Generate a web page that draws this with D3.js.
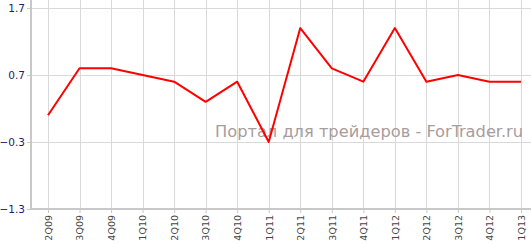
<!DOCTYPE html>
<html>
<head>
<meta charset="utf-8">
<script src="https://cdn.jsdelivr.net/npm/d3@7"></script>
<style>
  body { margin: 0; background: #fff; }
  .y-axis text { font-family: Verdana, "DejaVu Sans", sans-serif; font-size: 10.5px; fill: #1c1c6c; }
  .x-axis text { font-family: Verdana, "DejaVu Sans", sans-serif; font-size: 9.5px; fill: #444; }
</style>
</head>
<body>
<svg id="chart"></svg>
<script>
// quarters and values
const quarters = ['2Q09','3Q09','4Q09','1Q10','2Q10','3Q10','4Q10','1Q11','2Q11','3Q11','4Q11','1Q12','2Q12','3Q12','4Q12','1Q13'];
const values = [0.1, 0.8, 0.8, 0.7, 0.6, 0.3, 0.6, -0.3, 1.4, 0.8, 0.6, 1.4, 0.6, 0.7, 0.6, 0.6];
const yTicks = [-1.3, -0.3, 0.7, 1.7];
const watermark = 'Портал для трейдеров - ForTrader.ru';

const width = 531, height = 244;
const axisX = 31, axisY = 209;

const svg = d3.select('#chart')
    .attr('width', width)
    .attr('height', height);

const xScale = d3.scalePoint()
    .domain(quarters)
    .range([48, 521]);

const yScale = d3.scaleLinear()
    .domain([-1.3, 1.7])
    .range([axisY, 8]);

// grid
svg.append('g')
    .selectAll('line')
    .data(yTicks)
    .join('line')
    .attr('x1', axisX).attr('x2', width)
    .attr('y1', d => yScale(d) + 0.5).attr('y2', d => yScale(d) + 0.5)
    .attr('stroke', '#d9d9d9');

svg.append('g')
    .selectAll('line')
    .data(quarters)
    .join('line')
    .attr('x1', d => Math.round(xScale(d)) + 0.5).attr('x2', d => Math.round(xScale(d)) + 0.5)
    .attr('y1', 0).attr('y2', axisY)
    .attr('stroke', '#d9d9d9');

// watermark
svg.append('text')
    .attr('x', 215)
    .attr('y', 137)
    .attr('font-family', '"DejaVu Sans Condensed", "Liberation Sans Narrow", sans-serif')
    .attr('font-size', 16.5)
    .attr('fill', '#a89c9c')
    .attr('textLength', 308)
    .attr('lengthAdjust', 'spacingAndGlyphs')
    .text(watermark);

// axes
const yAxis = d3.axisLeft(yScale).tickValues(yTicks).tickSize(4).tickPadding(2).tickFormat(d3.format('.1f'));
const xAxis = d3.axisBottom(xScale).tickSize(4).tickPadding(3);

const yAxisG = svg.append('g')
    .attr('class', 'axis y-axis')
    .attr('transform', `translate(${axisX},0)`)
    .call(yAxis);
yAxisG.select('.domain').remove();
yAxisG.selectAll('.tick line').attr('stroke', '#c8c8c8');

const xAxisG = svg.append('g')
    .attr('class', 'axis x-axis')
    .attr('transform', `translate(0,${axisY})`)
    .call(xAxis);
xAxisG.select('.domain').remove();
xAxisG.selectAll('.tick line').attr('stroke', '#c8c8c8');
xAxisG.selectAll('.tick text')
    .attr('transform', 'rotate(-90)')
    .attr('text-anchor', 'end')
    .attr('x', -6)
    .attr('y', 0)
    .attr('dy', '0.35em');

svg.append('line')
    .attr('x1', axisX).attr('x2', axisX)
    .attr('y1', 0).attr('y2', axisY + 1)
    .attr('stroke', '#c8c8c8').attr('stroke-width', 2);
svg.append('line')
    .attr('x1', axisX - 1).attr('x2', width)
    .attr('y1', axisY).attr('y2', axisY)
    .attr('stroke', '#c8c8c8').attr('stroke-width', 2);

// line
const line = d3.line()
    .x((d, i) => xScale(quarters[i]))
    .y(d => yScale(d));

svg.append('path')
    .datum(values)
    .attr('fill', 'none')
    .attr('stroke', '#ff0000')
    .attr('stroke-width', 2)
    .attr('stroke-linejoin', 'round')
    .attr('d', line);
</script>
</body>
</html>
